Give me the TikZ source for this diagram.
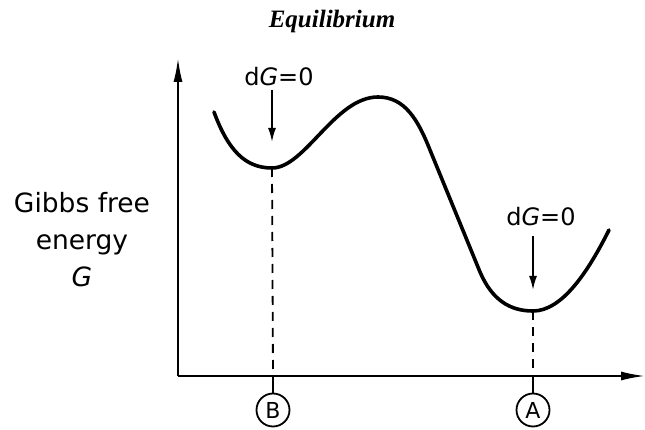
\documentclass[tikz,border=0pt]{standalone}
\usepackage{fontspec}
\setmainfont{Liberation Serif}
\newfontfamily\lettering{DejaVu Sans}
\usepackage{tikz}
\usetikzlibrary{arrows.meta,positioning}

\begin{document}
\begin{tikzpicture}[x=1pt, y=-1pt,
  font=\lettering\fontsize{24}{24}\selectfont,
  axis/.style={line width=2pt, -{Latex[length=24pt, width=9pt]}},
  curve/.style={line width=3.6pt, line cap=round},
  marker/.style={line width=1.8pt, -{Latex[length=14pt, width=8pt]}},
  drop/.style={line width=1.8pt, dash pattern=on 9pt off 7pt},
  state/.style={circle, draw, line width=1.8pt, minimum size=33pt, inner sep=0pt,
                font=\lettering\fontsize{22}{22}\selectfont}]
  \useasboundingbox (0,0) rectangle (645,430);

  \node[font=\rmfamily\bfseries\itshape\fontsize{25}{25}\selectfont] (title) at (332,21) {Equilibrium};
  \node[align=center, font=\lettering\fontsize{26.5}{37}\selectfont] (glab) at (82,240)
    {Gibbs free\\energy\\\textit{G}};

  % axes
  \coordinate (orig) at (178,376);
  \coordinate (ytip) at (178,58);
  \coordinate (xtip) at (645,376);
  \draw[axis] (orig) -- (ytip);
  \draw[axis] (orig) -- (xtip);

  % energy curve
  \coordinate (minB) at (272,168);
  \coordinate (minA) at (533,311);
  \draw[curve] (214,112) .. controls (228,150) and (245,168) .. (minB)
    .. controls (305,168) and (335,97) .. (378,97)
    .. controls (405,97) and (418,120) .. (430,150) -- (480,272)
    .. controls (492,300) and (510,311) .. (minA)
    .. controls (562,311) and (588,272) .. (609,230);

  % equilibrium marks
  \node (dgB) at (279,77) {d\textit{G}=0};
  \node (dgA) at (541,217) {d\textit{G}=0};
  \draw[marker, shorten >=26pt] (dgB.south -| minB) -- (minB);
  \draw[marker, shorten >=21pt] ([yshift=-6pt]dgA.south -| minA) -- (minA);

  \node[state] (B) at (273,410) {B};
  \node[state] (A) at (533,410) {A};
  \draw[drop] (minB) -- (B |- orig);
  \draw[drop] (minA) -- (A |- orig);
  \draw[line width=1.8pt] (B |- orig) -- (B.north);
  \draw[line width=1.8pt] (A |- orig) -- (A.north);
\end{tikzpicture}
\end{document}
